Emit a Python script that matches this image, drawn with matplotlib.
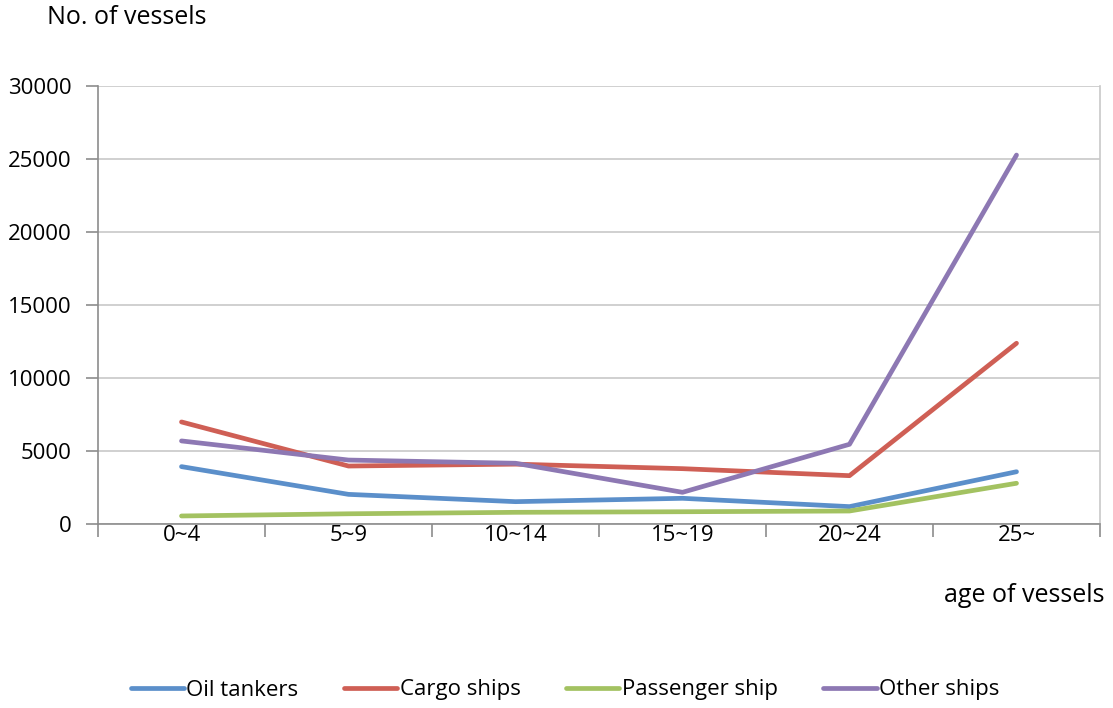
import matplotlib
matplotlib.use('Agg')
import matplotlib.pyplot as plt
import numpy as np

plt.rcParams['font.family'] = ['Open Sans', 'DejaVu Sans']

# data
ages = ['0~4', '5~9', '10~14', '15~19', '20~24', '25~']
oil_tankers = [3930, 2030, 1530, 1760, 1190, 3580]
cargo_ships = [6990, 3970, 4100, 3790, 3310, 12380]
passenger_ship = [550, 700, 800, 840, 890, 2790]
other_ships = [5690, 4380, 4160, 2170, 5460, 25270]

series = [
    ('Oil tankers', oil_tankers, '#5B8FCA'),
    ('Cargo ships', cargo_ships, '#CF5F55'),
    ('Passenger ship', passenger_ship, '#A3C261'),
    ('Other ships', other_ships, '#8D78B3'),
]

fig = plt.figure(figsize=(11.13, 7.08), dpi=100)
ax = fig.add_axes([98 / 1113, (708 - 524) / 708, (1100 - 98) / 1113, (524 - 86) / 708])

x = np.arange(len(ages))
for name, vals, col in series:
    ax.plot(x, vals, color=col, lw=3.4, solid_capstyle='round', solid_joinstyle='round', label=name)

ax.set_xlim(-0.5, len(ages) - 0.5)
ax.set_ylim(0, 30000)
ax.set_yticks(np.arange(0, 30001, 5000))
ax.yaxis.grid(True, color='#C8C8C8', lw=1.2)
ax.set_axisbelow(True)

# category labels between boundary ticks
ax.set_xticks(np.arange(-0.5, len(ages)), minor=False)
ax.set_xticklabels([])
ax.set_xticks(x, minor=True)
ax.set_xticklabels(ages, minor=True)
ax.tick_params(axis='x', which='major', length=9, color='#8C8C8C', width=1.2)
ax.tick_params(axis='x', which='minor', length=0, pad=1, labelsize=16)
ax.tick_params(axis='y', length=9, color='#8C8C8C', width=1.2, labelsize=16, pad=10)

ax.spines['top'].set_visible(False)
ax.spines['left'].set_color('#8C8C8C')
ax.spines['bottom'].set_color('#8C8C8C')
ax.spines['left'].set_linewidth(1.2)
ax.spines['bottom'].set_linewidth(1.2)
ax.spines['right'].set_color('#C8C8C8')
ax.spines['right'].set_linewidth(1.2)

fig.text(47 / 1113, 1 - 18 / 708, 'No. of vessels', fontsize=18, va='center', ha='left')
fig.text(1105 / 1113, 1 - 595 / 708, 'age of vessels', fontsize=18, va='center', ha='right')

leg = fig.legend(loc='center', bbox_to_anchor=(565 / 1113, 1 - 690 / 708), ncol=4, frameon=False,
                 fontsize=16, handlelength=2.4, handletextpad=0.1, columnspacing=2.05)

fig.savefig('out.png', dpi=100)
